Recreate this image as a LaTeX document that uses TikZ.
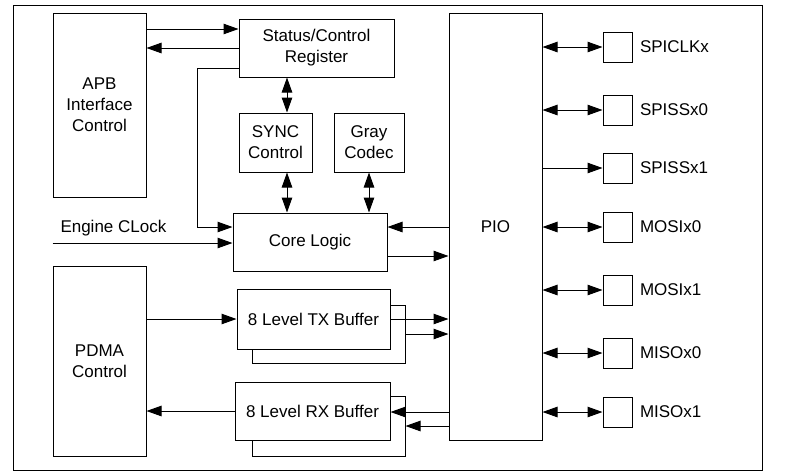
\documentclass[tikz,border=0pt]{standalone}
\usepackage{fontspec}
\setmainfont{Liberation Sans}
\usetikzlibrary{arrows.meta}
\begin{document}
\begin{tikzpicture}[x=1pt,y=-1pt,
  line width=1pt,
  every node/.style={font=\fontsize{17}{21}\selectfont},
  blk/.style={draw, fill=white, inner sep=0pt, align=center, line width=1pt},
  arr/.style={-{Triangle[length=15pt,width=10.5pt]}},
  darr/.style={{Triangle[length=15pt,width=10.5pt]}-{Triangle[length=15pt,width=10.5pt]}},
  pin/.style={draw, minimum width=29pt, minimum height=30pt, inner sep=0pt},
  pinlbl/.style={anchor=west, inner sep=0pt}]
\useasboundingbox (0,0) rectangle (787,475);
\draw (13,5) rectangle (762,470);

% left blocks
\node[blk, minimum width=93pt, minimum height=184pt] (apb) at (99.5,105) {APB\\Interface\\Control};
\node[blk, minimum width=93pt, minimum height=190pt] (pdma) at (99.5,361) {PDMA\\Control};

% center blocks
\node[blk, minimum width=155pt, minimum height=58pt] (scr) at (316.5,48) {Status/Control\\Register};
\node[blk, minimum width=73pt, minimum height=59pt] (sync) at (275.5,142.5) {SYNC\\Control};
\node[blk, minimum width=70pt, minimum height=59pt] (gray) at (369,142.5) {Gray\\Codec};
\node[blk, minimum width=154pt, minimum height=58pt] (core) at (310,242) {Core Logic};

\node[blk, minimum width=153pt, minimum height=58pt] (txs) at (328.5,334) {};
\node[blk, minimum width=153pt, minimum height=60pt] (tx) at (313.5,319) {8 Level TX Buffer};
\node[blk, minimum width=153pt, minimum height=60pt] (rxs) at (328.5,426) {};
\node[blk, minimum width=155pt, minimum height=58pt] (rx) at (312.5,411) {8 Level RX Buffer};

% PIO
\node[blk, minimum width=93pt, minimum height=427pt] (pio) at (495.5,226.5) {PIO};

% pins
\node[pin] (p1) at (617.5,47) {};
\node[pin] (p2) at (617.5,110) {};
\node[pin] (p3) at (617.5,168) {};
\node[pin] (p4) at (617.5,227) {};
\node[pin] (p5) at (617.5,290) {};
\node[pin] (p6) at (617.5,353) {};
\node[pin] (p7) at (617.5,412) {};
\node[pinlbl] (l1) at ([xshift=7pt]p1.east) {SPICLKx};
\node[pinlbl] (l2) at ([xshift=7pt]p2.east) {SPISSx0};
\node[pinlbl] (l3) at ([xshift=7pt]p3.east) {SPISSx1};
\node[pinlbl] (l4) at ([xshift=7pt]p4.east) {MOSIx0};
\node[pinlbl] (l5) at ([xshift=7pt]p5.east) {MOSIx1};
\node[pinlbl] (l6) at ([xshift=7pt]p6.east) {MISOx0};
\node[pinlbl] (l7) at ([xshift=7pt]p7.east) {MISOx1};

\draw[darr] (p1.west -| pio.east) -- (p1.west);
\draw[darr] (p2.west -| pio.east) -- (p2.west);
\draw[arr]  (p3.west -| pio.east) -- (p3.west);
\draw[darr] (p4.west -| pio.east) -- (p4.west);
\draw[darr] (p5.west -| pio.east) -- (p5.west);
\draw[darr] (p6.west -| pio.east) -- (p6.west);
\draw[darr] (p7.west -| pio.east) -- (p7.west);

% APB <-> status
\coordinate (c1) at ([yshift=19pt]scr.west);
\draw[arr] (c1 -| apb.east) -- (c1);
\draw[arr] (scr.west) -- (scr.west -| apb.east);

% status -> core loop
\coordinate (c3) at ([yshift=-20pt]scr.west);
\coordinate (c4) at ([yshift=15pt]core.west);
\coordinate (k) at ([xshift=-35pt]c4);
\draw[arr] (c3) -| (k) -- (c4);

% engine clock
\coordinate (ec) at ([yshift=-1pt]core.west);
\draw[arr] (ec -| apb.west) -- (ec);
\node[anchor=west, inner sep=0pt] (eclbl) at (60,228) {Engine CLock};

% vertical links
\coordinate (sx) at ([xshift=11.5pt]sync.north);
\draw[darr] (sx |- scr.south) -- (sx);
\coordinate (sy) at ([xshift=11.5pt]sync.south);
\draw[darr] (sy) -- (sy |- core.north);
\draw[darr] (gray.south) -- (gray.south |- core.north);

% core <-> pio
\coordinate (c5) at ([yshift=15pt]core.east);
\draw[arr] (c5 -| pio.west) -- (c5);
\coordinate (c6) at ([yshift=-14pt]core.east);
\draw[arr] (c6) -- (c6 -| pio.west);

% buffers
\draw[arr] (tx.west -| pdma.east) -- (tx.west);
\draw[arr] (tx.east) -- (tx.east -| pio.west);
\draw[arr] (txs.east) -- (txs.east -| pio.west);
\draw[arr] (rx.west) -- (rx.west -| pdma.east);
\coordinate (c7) at ([yshift=-1pt]rx.east);
\draw[arr] (c7 -| pio.west) -- (c7);
\draw[arr] (rxs.east -| pio.west) -- (rxs.east);
\end{tikzpicture}
\end{document}
